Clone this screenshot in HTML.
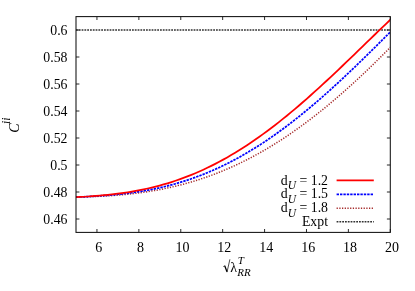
<!DOCTYPE html>
<html><head><meta charset="utf-8"><title>plot</title>
<style>
html,body{margin:0;padding:0;background:#fff;}
body{width:415px;height:291px;overflow:hidden;font-family:"Liberation Serif",serif;}
svg{display:block;}
text{font-family:"Liberation Serif",serif;fill:#000;}
</style></head><body>
<svg width="415" height="291" viewBox="0 0 415 291" style="will-change:transform;opacity:0.999">
<rect width="415" height="291" fill="#fff"/>

<g stroke="#111" stroke-width="0.9" fill="none">
<path d="M76.0,219.00h3.4M390.3,219.00h-3.4"/>
<path d="M76.0,192.00h3.4M390.3,192.00h-3.4"/>
<path d="M76.0,165.00h3.4M390.3,165.00h-3.4"/>
<path d="M76.0,138.00h3.4M390.3,138.00h-3.4"/>
<path d="M76.0,111.00h3.4M390.3,111.00h-3.4"/>
<path d="M76.0,84.00h3.4M390.3,84.00h-3.4"/>
<path d="M76.0,57.00h3.4M390.3,57.00h-3.4"/>
<path d="M76.0,30.00h3.4M390.3,30.00h-3.4"/>
<path d="M96.95,232.4v-3.4M96.95,16.6v3.4"/>
<path d="M138.86,232.4v-3.4M138.86,16.6v3.4"/>
<path d="M180.77,232.4v-3.4M180.77,16.6v3.4"/>
<path d="M222.67,232.4v-3.4M222.67,16.6v3.4"/>
<path d="M264.58,232.4v-3.4M264.58,16.6v3.4"/>
<path d="M306.49,232.4v-3.4M306.49,16.6v3.4"/>
<path d="M348.39,232.4v-3.4M348.39,16.6v3.4"/>
<path d="M390.30,232.4v-3.4M390.30,16.6v3.4"/>
</g>
<clipPath id="c"><rect x="76.0" y="16.6" width="314.3" height="215.8"/></clipPath>
<g fill="none" clip-path="url(#c)">
<path d="M76.0,30H390.3" stroke="#333" stroke-width="1.5" stroke-dasharray="1.8 1.0"/>
<path d="M76.00,197.22 L79.98,197.10 L83.96,196.98 L87.94,196.84 L91.91,196.69 L95.89,196.51 L99.87,196.32 L103.85,196.10 L107.83,195.86 L111.81,195.59 L115.78,195.29 L119.76,194.96 L123.74,194.60 L127.72,194.20 L131.70,193.77 L135.68,193.30 L139.66,192.79 L143.63,192.24 L147.61,191.65 L151.59,191.01 L155.57,190.33 L159.55,189.60 L163.53,188.83 L167.51,188.00 L171.48,187.12 L175.46,186.20 L179.44,185.22 L183.42,184.18 L187.40,183.09 L191.38,181.95 L195.35,180.74 L199.33,179.48 L203.31,178.17 L207.29,176.79 L211.27,175.35 L215.25,173.85 L219.23,172.29 L223.20,170.67 L227.18,168.99 L231.16,167.25 L235.14,165.44 L239.12,163.57 L243.10,161.63 L247.07,159.63 L251.05,157.57 L255.03,155.44 L259.01,153.25 L262.99,151.00 L266.97,148.68 L270.95,146.29 L274.92,143.85 L278.90,141.33 L282.88,138.76 L286.86,136.12 L290.84,133.42 L294.82,130.65 L298.79,127.83 L302.77,124.94 L306.75,121.99 L310.73,118.98 L314.71,115.91 L318.69,112.78 L322.67,109.59 L326.64,106.34 L330.62,103.04 L334.60,99.68 L338.58,96.26 L342.56,92.79 L346.54,89.27 L350.52,85.70 L354.49,82.07 L358.47,78.40 L362.45,74.68 L366.43,70.91 L370.41,67.09 L374.39,63.23 L378.36,59.33 L382.34,55.38 L386.32,51.40 L390.30,47.37" stroke="#a52a2a" stroke-width="1.5" stroke-dasharray="1.25 1.45"/>
<path d="M76.00,197.13 L79.98,196.96 L83.96,196.77 L87.94,196.57 L91.91,196.35 L95.89,196.12 L99.87,195.86 L103.85,195.58 L107.83,195.28 L111.81,194.94 L115.78,194.58 L119.76,194.17 L123.74,193.74 L127.72,193.26 L131.70,192.74 L135.68,192.18 L139.66,191.57 L143.63,190.92 L147.61,190.21 L151.59,189.46 L155.57,188.65 L159.55,187.79 L163.53,186.87 L167.51,185.89 L171.48,184.86 L175.46,183.76 L179.44,182.60 L183.42,181.38 L187.40,180.10 L191.38,178.76 L195.35,177.34 L199.33,175.86 L203.31,174.32 L207.29,172.71 L211.27,171.02 L215.25,169.27 L219.23,167.45 L223.20,165.57 L227.18,163.61 L231.16,161.58 L235.14,159.48 L239.12,157.32 L243.10,155.08 L247.07,152.77 L251.05,150.40 L255.03,147.96 L259.01,145.44 L262.99,142.86 L266.97,140.22 L270.95,137.50 L274.92,134.72 L278.90,131.88 L282.88,128.97 L286.86,126.00 L290.84,122.97 L294.82,119.87 L298.79,116.72 L302.77,113.51 L306.75,110.24 L310.73,106.92 L314.71,103.55 L318.69,100.12 L322.67,96.64 L326.64,93.11 L330.62,89.54 L334.60,85.93 L338.58,82.27 L342.56,78.57 L346.54,74.84 L350.52,71.06 L354.49,67.26 L358.47,63.43 L362.45,59.56 L366.43,55.68 L370.41,51.77 L374.39,47.84 L378.36,43.89 L382.34,39.94 L386.32,35.97 L390.30,31.99" stroke="#0000ff" stroke-width="1.75" stroke-dasharray="2.4 1.0"/>
<path d="M76.00,197.21 L79.98,196.99 L83.96,196.75 L87.94,196.50 L91.91,196.22 L95.89,195.92 L99.87,195.59 L103.85,195.23 L107.83,194.84 L111.81,194.41 L115.78,193.94 L119.76,193.44 L123.74,192.88 L127.72,192.28 L131.70,191.63 L135.68,190.94 L139.66,190.18 L143.63,189.38 L147.61,188.51 L151.59,187.59 L155.57,186.61 L159.55,185.57 L163.53,184.46 L167.51,183.29 L171.48,182.05 L175.46,180.75 L179.44,179.38 L183.42,177.94 L187.40,176.43 L191.38,174.85 L195.35,173.20 L199.33,171.48 L203.31,169.68 L207.29,167.82 L211.27,165.88 L215.25,163.87 L219.23,161.78 L223.20,159.63 L227.18,157.40 L231.16,155.10 L235.14,152.72 L239.12,150.28 L243.10,147.76 L247.07,145.18 L251.05,142.53 L255.03,139.80 L259.01,137.01 L262.99,134.16 L266.97,131.24 L270.95,128.25 L274.92,125.21 L278.90,122.10 L282.88,118.93 L286.86,115.71 L290.84,112.43 L294.82,109.10 L298.79,105.71 L302.77,102.28 L306.75,98.80 L310.73,95.27 L314.71,91.70 L318.69,88.09 L322.67,84.45 L326.64,80.76 L330.62,77.05 L334.60,73.31 L338.58,69.54 L342.56,65.75 L346.54,61.94 L350.52,58.11 L354.49,54.27 L358.47,50.42 L362.45,46.57 L366.43,42.71 L370.41,38.85 L374.39,35.00 L378.36,31.17 L382.34,27.34 L386.32,23.53 L390.30,19.75" stroke="#ff0000" stroke-width="1.75"/>
</g>
<rect x="76.0" y="16.6" width="314.3" height="215.8" fill="none" stroke="#111" stroke-width="1.05"/>
<g font-size="13.8" text-anchor="end">
<text x="67.5" y="223.70">0.46</text>
<text x="67.5" y="196.70">0.48</text>
<text x="67.5" y="169.70">0.5</text>
<text x="67.5" y="142.70">0.52</text>
<text x="67.5" y="115.70">0.54</text>
<text x="67.5" y="88.70">0.56</text>
<text x="67.5" y="61.70">0.58</text>
<text x="67.5" y="34.70">0.6</text>
</g>
<g font-size="14" text-anchor="middle">
<text x="98.65" y="252">6</text>
<text x="140.56" y="252">8</text>
<text x="182.47" y="252">10</text>
<text x="224.37" y="252">12</text>
<text x="266.28" y="252">14</text>
<text x="308.19" y="252">16</text>
<text x="350.09" y="252">18</text>
<text x="392.00" y="252">20</text>
</g>
<g font-size="13.8" text-anchor="end">
<text x="328" y="184.60">d<tspan font-style="italic" font-size="11.5" dy="4.4">U</tspan><tspan dy="-4.4"> = 1.2</tspan></text>
<text x="328" y="198.40">d<tspan font-style="italic" font-size="11.5" dy="4.4">U</tspan><tspan dy="-4.4"> = 1.5</tspan></text>
<text x="328" y="212.20">d<tspan font-style="italic" font-size="11.5" dy="4.4">U</tspan><tspan dy="-4.4"> = 1.8</tspan></text>
<text x="328" y="226.00">Expt</text>
</g>
<g fill="none">
<path d="M336.6,180.4H373.8" stroke="#ff0000" stroke-width="1.75"/>
<path d="M336.6,194.3H373.8" stroke="#0000ff" stroke-width="1.75" stroke-dasharray="2.4 1.0"/>
<path d="M336.6,208.2H373.8" stroke="#a52a2a" stroke-width="1.5" stroke-dasharray="1.25 1.45"/>
<path d="M336.6,221.8H373.8" stroke="#333" stroke-width="1.5" stroke-dasharray="1.8 1.0"/>
</g>
<path d="M223.3,266.6l1.4,-0.9" stroke="#000" stroke-width="0.7" fill="none"/><path d="M224.7,265.7l2.3,6" stroke="#000" stroke-width="1.3" fill="none"/><path d="M227,272.2l2.9,-12.9" stroke="#000" stroke-width="0.7" fill="none"/><text x="230.2" y="272" font-size="14">λ</text>
<text x="237.8" y="264.1" font-size="11" font-style="italic">T</text>
<text x="237.3" y="275.8" font-size="11" font-style="italic">RR</text>
<g transform="translate(18.8,132.8) rotate(-90)"><text x="0" y="0" font-size="14" font-style="italic">C</text><text x="8.8" y="-8.4" font-size="11.5" font-style="italic">ii</text></g>
</svg></body></html>
